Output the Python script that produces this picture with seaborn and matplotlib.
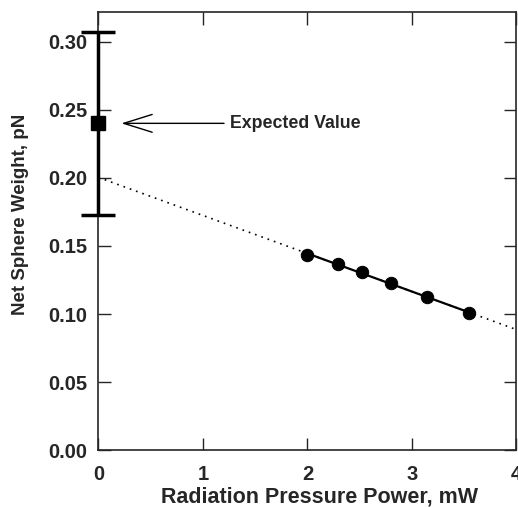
import numpy as np
import pandas as pd
import seaborn as sns
import matplotlib.pyplot as plt

# measured points (radiation pressure power, mW vs net sphere weight, pN)
power = [2.00, 2.29, 2.52, 2.80, 3.14, 3.55]
weight = [0.143, 0.137, 0.131, 0.1225, 0.1125, 0.1005]

# expected value with its error bar
expected_x = 0.0
expected_y = 0.240
expected_err = 0.067

fit_range = [0.0, 4.0]

sns.set_style('ticks')
plt.rcParams['font.family'] = ['Liberation Sans', 'DejaVu Sans']
plt.rcParams['font.weight'] = 'bold'

fig, ax = plt.subplots(figsize=(5.18, 5.07), dpi=100)
fig.subplots_adjust(left=0.190, right=0.997, bottom=0.112, top=0.977)

df = pd.DataFrame({'power': power, 'weight': weight})

# straight-line fit through the data, extrapolated to zero power
slope, intercept = np.polyfit(power, weight, 1)
fit_x = np.array(fit_range)
sns.lineplot(x=fit_x, y=intercept + slope * fit_x, ax=ax, color='black',
             linestyle=(0, (1, 3)), linewidth=1.2)
data_x = np.array([min(power), max(power)])
sns.lineplot(x=data_x, y=intercept + slope * data_x, ax=ax, color='black',
             linewidth=1.6)

sns.scatterplot(data=df, x='power', y='weight', ax=ax, color='black',
                s=80, edgecolor='black', zorder=5)

ax.errorbar([expected_x], [expected_y], yerr=[expected_err], fmt='s',
            color='black', markersize=10, elinewidth=2.5, capsize=12,
            capthick=2.5, clip_on=False, zorder=6)

ax.annotate('Expected Value', xy=(0.22, expected_y), xytext=(1.26, expected_y),
            fontsize=12.8, fontweight='bold', va='center', ha='left',
            arrowprops=dict(arrowstyle='->, head_length=1.6, head_width=0.5',
                            color='black', lw=1.0, shrinkA=2, shrinkB=0))

ax.set_xlim(0, 4)
ax.set_ylim(0, 0.322)
ax.set_xticks([0, 1, 2, 3, 4])
ax.set_yticks([0.00, 0.05, 0.10, 0.15, 0.20, 0.25, 0.30])
ax.set_yticklabels(['%.2f' % v for v in ax.get_yticks()])
ax.tick_params(direction='in', top=True, right=True, length=9, width=1,
               labelsize=14.5, pad=8)
ax.tick_params(axis='x', pad=11)
for side in ax.spines.values():
    side.set_linewidth(1.2)

ax.set_xlabel('Radiation Pressure Power, mW', fontsize=15.5, fontweight='bold')
ax.xaxis.set_label_coords(0.530, -0.083)
ax.set_ylabel('Net Sphere Weight, pN', fontsize=13.5, fontweight='bold')
ax.yaxis.set_label_coords(-0.165, 0.538)

fig.savefig('out.png', dpi=100)
